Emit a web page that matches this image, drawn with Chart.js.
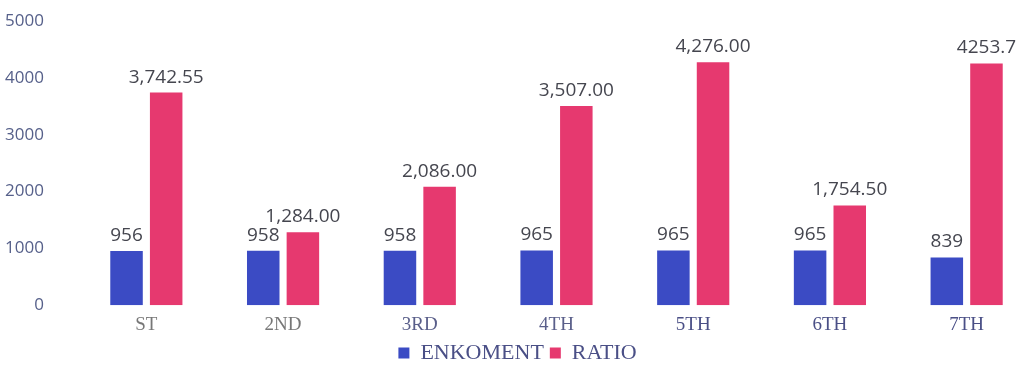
<!DOCTYPE html>
<html>
<head>
<meta charset="utf-8">
<script src="https://cdn.jsdelivr.net/npm/chart.js@4.4.1/dist/chart.umd.min.js"></script>
<style>
  html, body { margin: 0; padding: 0; background: #fff; overflow: hidden; }
  body { height: 366px; }
  .wrap { position: relative; top: -15px; width: 1035px; height: 389px; }
</style>
</head>
<body>
<div class="wrap"><canvas id="chart"></canvas></div>
<script>
// data
const grades = ["ST", "2ND", "3RD", "4TH", "5TH", "6TH", "7TH"];
const enrolment = [956, 958, 958, 965, 965, 965, 839];
const ratio = [3742.55, 1284, 2086, 3507, 4276, 1754.5, 4253.7];
const enrolmentLabels = ["956", "958", "958", "965", "965", "965", "839"];
const ratioLabels = ["3,742.55", "1,284.00", "2,086.00", "3,507.00", "4,276.00", "1,754.50", "4253.7"];
const yTicks = [0, 1000, 2000, 3000, 4000, 5000];

const blue = '#3b4bc4';
const pink = '#e6396f';

// numbers drawn above each bar
const barLabels = {
  id: 'barLabels',
  afterDatasetsDraw(chart) {
    const ctx = chart.ctx;
    const texts = [enrolmentLabels, ratioLabels];
    ctx.save();
    ctx.font = '19px "Open Sans", "Liberation Sans", sans-serif';
    ctx.fillStyle = '#45464f';
    ctx.textAlign = 'center';
    ctx.textBaseline = 'bottom';
    chart.data.datasets.forEach((ds, i) => {
      chart.getDatasetMeta(i).data.forEach((bar, j) => {
        ctx.fillText(texts[i][j], bar.x, bar.y - 6);
      });
    });
    ctx.restore();
  }
};

const ctx = document.getElementById('chart').getContext('2d');
new Chart(ctx, {
  type: 'bar',
  data: {
    labels: grades,
    datasets: [{
      label: 'ENKOMENT',
      data: enrolment,
      backgroundColor: blue,
      categoryPercentage: 0.58,
      barPercentage: 0.82
    }, {
      label: 'RATIO',
      data: ratio,
      backgroundColor: pink,
      categoryPercentage: 0.58,
      barPercentage: 0.82
    }]
  },
  options: {
    responsive: true,
    maintainAspectRatio: false,
    animation: false,
    layout: { padding: { top: 0, bottom: 0, left: 0, right: 0 } },
    plugins: {
      tooltip: { enabled: false },
      legend: {
        position: 'bottom',
        labels: {
          boxWidth: 11,
          boxHeight: 11,
          padding: 6,
          color: '#4a4f86',
          font: { family: '"Liberation Serif", "DejaVu Serif", serif', size: 22 }
        }
      }
    },
    scales: {
      x: {
        grid: { display: false },
        border: { display: false },
        ticks: {
          padding: 0,
          color: ['#777', '#777', '#5a5f8a', '#5a5f8a', '#4a4f86', '#4a4f86', '#4a4f86'],
          font: { family: '"Liberation Serif", "DejaVu Serif", serif', size: 19 }
        }
      },
      y: {
        min: 0,
        max: 5000,
        afterBuildTicks(axis) {
          axis.ticks = yTicks.map(v => ({ value: v }));
        },
        afterFit(axis) { axis.width = 78; },
        grid: { display: false },
        border: { display: false },
        ticks: {
          padding: 26,
          color: '#56608a',
          callback: v => String(v),
          font: { family: '"Open Sans", "Liberation Sans", sans-serif', size: 17 }
        }
      }
    }
  },
  plugins: [barLabels]
});
</script>
</body>
</html>
